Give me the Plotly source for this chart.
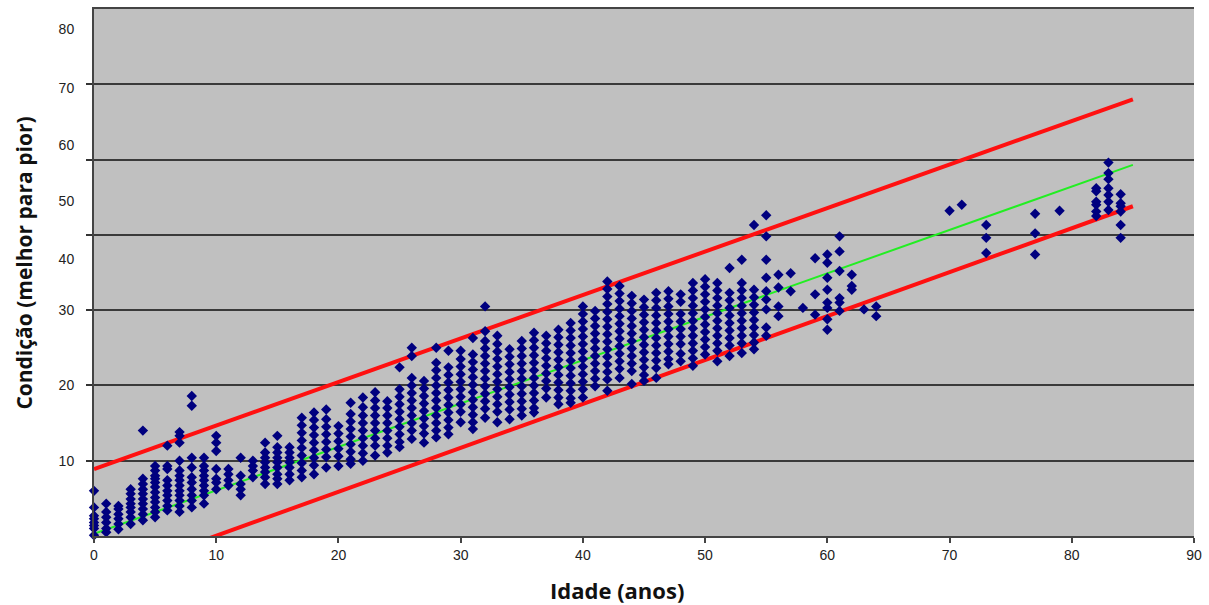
import plotly.graph_objects as go

# ---- data ----
idade = [0, 1, 2, 3, 4, 5, 6, 7, 8, 9, 10, 11, 12, 13, 14, 15, 16, 17, 18, 19,
         20, 21, 22, 23, 24, 25, 26, 27, 28, 29, 30, 31, 32, 33, 34, 35, 36, 37,
         38, 39, 40, 41, 42, 43, 44, 45, 46, 47, 48, 49, 50, 51, 52, 53, 54, 55,
         56, 57, 58, 59, 60, 61, 62, 63, 64, 70, 71, 73, 77, 79, 82, 83, 84]

condicao = [
    [6.0, 3.8, 2.7, 2.3, 1.8, 1.4, 1.0, 0.1],
    [4.3, 3.2, 2.5, 1.8, 1.0, 0.5],
    [4.0, 3.6, 2.9, 2.3, 1.6, 0.9],
    [6.2, 5.6, 4.9, 4.3, 3.8, 3.2, 2.5, 1.6],
    [14.0, 7.6, 6.9, 6.2, 5.6, 4.9, 4.3, 3.6, 2.9, 2.1],
    [9.3, 8.7, 8.0, 7.6, 7.1, 6.5, 5.8, 5.1, 4.5, 3.8, 3.2, 2.5],
    [12.0, 9.3, 8.9, 7.4, 6.7, 6.0, 5.4, 4.7, 4.0, 3.4],
    [13.8, 13.3, 12.4, 10.0, 8.7, 8.0, 7.4, 6.7, 6.0, 5.4, 4.7, 4.0, 3.2],
    [18.6, 17.3, 10.4, 9.1, 7.8, 7.1, 6.2, 5.4, 4.7, 3.8],
    [10.4, 9.3, 8.7, 8.0, 7.4, 6.7, 6.0, 5.4, 4.3],
    [13.3, 12.4, 11.3, 8.9, 7.6, 7.1, 6.2],
    [8.9, 8.2, 7.4, 6.7],
    [10.4, 8.0, 6.9, 6.2, 5.4],
    [10.0, 9.3, 8.7, 7.8],
    [12.4, 11.1, 10.4, 9.8, 9.1, 8.5, 7.8, 6.9],
    [13.3, 11.8, 11.1, 10.4, 9.8, 9.1, 8.2, 7.6, 6.9],
    [11.8, 11.1, 10.4, 9.8, 9.1, 8.2, 7.4],
    [15.7, 14.7, 13.7, 12.7, 11.7, 10.7, 9.7, 8.7, 7.8],
    [16.4, 15.4, 14.4, 13.4, 12.4, 11.4, 10.4, 9.4, 8.2],
    [16.8, 15.5, 14.5, 13.5, 12.5, 11.5, 10.5, 9.1],
    [14.6, 13.6, 12.6, 11.6, 10.6, 9.3],
    [17.7, 16.2, 15.2, 14.2, 13.2, 12.2, 11.2, 10.2, 9.6],
    [18.4, 17.1, 16.0, 15.0, 14.0, 13.0, 12.0, 11.0, 10.0],
    [19.1, 18.0, 17.0, 16.0, 15.0, 14.0, 13.0, 12.0, 10.7],
    [17.9, 17.0, 16.0, 15.0, 14.0, 13.0, 12.0, 11.1],
    [22.4, 19.5, 18.5, 17.5, 16.5, 15.5, 14.5, 13.5, 12.5, 11.8],
    [25.0, 23.9, 21.0, 20.0, 19.0, 18.0, 17.0, 16.0, 15.0, 14.0, 12.9],
    [20.6, 19.6, 18.6, 17.6, 16.6, 15.6, 14.6, 13.6, 12.4],
    [25.0, 23.0, 22.0, 21.0, 20.0, 19.0, 18.0, 17.0, 16.0, 15.0, 14.0, 13.1],
    [24.6, 22.4, 21.4, 20.4, 19.4, 18.4, 17.4, 16.4, 15.4, 14.4, 13.5],
    [24.6, 23.5, 22.5, 21.5, 20.5, 19.5, 18.5, 17.5, 16.5, 15.1],
    [26.3, 24.1, 23.1, 22.1, 21.1, 20.1, 19.1, 18.1, 17.1, 16.1, 15.1, 14.2],
    [30.5, 27.2, 25.9, 24.9, 23.9, 22.9, 21.9, 20.9, 19.9, 18.9, 17.9, 16.9, 15.7],
    [26.6, 25.5, 24.5, 23.5, 22.5, 21.5, 20.5, 19.5, 18.5, 17.5, 16.5, 15.1],
    [24.8, 23.8, 22.8, 21.8, 20.8, 19.8, 18.8, 17.8, 16.8, 15.5],
    [25.9, 24.9, 23.9, 22.9, 21.9, 20.9, 19.9, 18.9, 17.9, 16.9, 16.0],
    [27.0, 26.0, 25.0, 24.0, 23.0, 22.0, 21.0, 20.0, 19.0, 18.0, 17.0, 16.4],
    [26.6, 25.6, 24.6, 23.6, 22.6, 21.6, 20.6, 19.6, 18.4],
    [27.4, 26.4, 25.4, 24.4, 23.4, 22.4, 21.4, 20.4, 19.4, 18.4, 17.5],
    [28.3, 27.3, 26.3, 25.3, 24.3, 23.3, 22.3, 21.3, 20.3, 19.3, 18.3, 17.7],
    [30.5, 29.5, 28.5, 27.5, 26.5, 25.5, 24.5, 23.5, 22.5, 21.5, 20.5, 19.5, 18.4],
    [29.9, 28.9, 27.9, 26.9, 25.9, 24.9, 23.9, 22.9, 21.9, 20.9, 19.9],
    [33.8, 32.8, 31.8, 30.8, 29.8, 28.8, 27.8, 26.8, 25.8, 24.8, 23.8, 22.8, 21.8, 20.8, 19.3],
    [33.2, 32.2, 31.2, 30.2, 29.2, 28.2, 27.2, 26.2, 25.2, 24.2, 23.2, 22.2, 21.0],
    [31.9, 30.9, 29.9, 28.9, 27.9, 26.9, 25.9, 24.9, 23.9, 22.9, 21.9, 20.2],
    [31.4, 30.4, 29.4, 28.4, 27.4, 26.4, 25.4, 24.4, 23.4, 22.4, 21.4, 20.6],
    [32.3, 31.3, 30.3, 29.3, 28.3, 27.3, 26.3, 25.3, 24.3, 23.3, 22.3, 21.0],
    [32.5, 31.5, 30.5, 29.5, 28.5, 27.5, 26.5, 25.5, 24.5, 23.5, 22.8],
    [32.1, 31.1, 29.5, 28.5, 27.5, 26.5, 25.5, 24.2, 23.2],
    [33.6, 32.6, 31.6, 30.6, 29.6, 28.6, 27.6, 26.6, 25.6, 24.6, 23.6, 22.6],
    [34.1, 33.1, 32.1, 31.1, 30.1, 29.1, 28.1, 27.1, 26.1, 25.1, 24.1],
    [33.6, 32.6, 31.6, 30.6, 29.6, 28.6, 27.6, 26.6, 25.6, 24.6, 23.2],
    [35.6, 32.3, 31.3, 30.3, 29.3, 28.3, 27.3, 26.3, 25.3, 23.9],
    [36.7, 33.6, 32.6, 31.6, 30.6, 29.6, 28.6, 27.6, 26.6, 25.6, 24.3],
    [41.3, 32.7, 31.7, 30.7, 29.7, 28.7, 27.7, 26.7, 25.7, 24.8],
    [42.6, 39.8, 36.7, 34.3, 32.5, 31.4, 30.1, 27.7, 26.6],
    [34.7, 33.0, 30.5, 29.2],
    [34.9, 32.5],
    [30.3],
    [36.9, 32.1, 29.4],
    [37.4, 36.3, 34.3, 32.7, 31.0, 30.3, 28.8, 27.4],
    [39.8, 37.8, 35.2, 31.6, 31.0, 29.9],
    [34.7, 33.2, 32.7],
    [30.1],
    [30.5, 29.2],
    [43.2],
    [44.0],
    [41.3, 39.6, 37.6],
    [42.8, 40.2, 37.4],
    [43.2],
    [46.2, 45.8, 44.4, 44.0, 43.1, 42.5],
    [49.6, 48.2, 47.4, 46.2, 45.3, 44.4, 43.3],
    [45.4, 44.2, 43.8, 43.1, 41.3, 39.6],
]

# lines (start / end)
linha_x = [0, 85]
limite_sup = [8.9, 58.0]
media = [0.3, 49.3]
limite_inf = [-5.8, 43.8]

# y tick labels as they appear in the picture (label text and position)
ytick_texto = ["80", "70", "60", "50", "40", "30", "20", "10"]
ytick_pos = [67.3, 59.5, 51.9, 44.5, 36.8, 30, 20, 10]

xs = [a for a, vals in zip(idade, condicao) for _ in vals]
ys = [v for vals in condicao for v in vals]

fig = go.Figure()
fig.add_trace(go.Scatter(x=linha_x, y=media, mode="lines",
                         line=dict(color="#22EE22", width=2), hoverinfo="skip"))
fig.add_trace(go.Scatter(x=linha_x, y=limite_sup, mode="lines",
                         line=dict(color="#FF1010", width=4), hoverinfo="skip"))
fig.add_trace(go.Scatter(x=linha_x, y=limite_inf, mode="lines",
                         line=dict(color="#FF1010", width=4), hoverinfo="skip"))
fig.add_trace(go.Scatter(x=xs, y=ys, mode="markers",
                         marker=dict(symbol="diamond", size=8, color="#00007F",
                                     line=dict(width=0)),
                         cliponaxis=False))
# invisible trace to activate label axis
fig.add_trace(go.Scatter(x=[None], y=[None], yaxis="y2", showlegend=False))

tickfont = dict(family="Liberation Sans, Arial", size=14, color="#222222")

fig.update_layout(
    width=1209, height=605,
    margin=dict(l=94, r=11, t=7, b=69),
    paper_bgcolor="white",
    plot_bgcolor="#C0C0C0",
    showlegend=False,
    xaxis=dict(range=[0, 90], tickmode="array", tickvals=list(range(0, 91, 10)),
               ticks="outside", ticklen=5, tickwidth=2, tickcolor="#444444",
               showline=True, linecolor="#444444", linewidth=2, mirror=True,
               showgrid=False, zeroline=False, tickfont=tickfont),
    yaxis=dict(range=[0, 70], tickmode="array", tickvals=[10, 20, 30, 40, 50, 60],
               showticklabels=False, ticks="outside", ticklen=6, tickwidth=2,
               tickcolor="#333333", showline=True, linecolor="#444444", linewidth=2,
               showgrid=True, gridcolor="#3A3A3A", gridwidth=2, zeroline=False),
    yaxis2=dict(range=[0, 70], overlaying="y", side="left", tickmode="array",
                tickvals=ytick_pos, ticktext=ytick_texto, ticks="outside",
                ticklen=16, tickcolor="rgba(0,0,0,0)", showgrid=False,
                showline=False, zeroline=False, tickfont=tickfont),
    annotations=[
        dict(text="<b>Idade (anos)</b>", xref="paper", yref="paper",
             x=0.475, y=-0.102, showarrow=False, xanchor="center", yanchor="middle",
             font=dict(family="Open Sans", size=22, color="#111111")),
        dict(text="<b>Condição (melhor para pior)</b>", xref="paper", yref="paper",
             x=-0.064, y=0.518, showarrow=False, textangle=-90,
             xanchor="center", yanchor="middle",
             font=dict(family="Open Sans", size=21, color="#111111")),
    ],
)

fig.write_html("out.html")
